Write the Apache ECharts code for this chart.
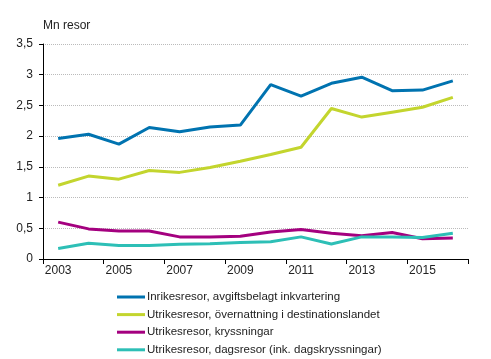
<!DOCTYPE html>
<html><head><meta charset="utf-8">
<script src="https://cdn.jsdelivr.net/npm/echarts@6/dist/echarts.min.js"></script>
<style>html,body{margin:0;padding:0;background:#fff}#c{width:491px;height:359px}</style>
</head><body><div id="c"></div>
<script>
const years = ['2003','2004','2005','2006','2007','2008','2009','2010','2011','2012','2013','2014','2015','2016'];
const seriesNames = [
  'Inrikesresor, avgiftsbelagt inkvartering',
  'Utrikesresor, övernattning i destinationslandet',
  'Utrikesresor, kryssningar',
  'Utrikesresor, dagsresor (ink. dagskryssningar)'
];
const inrikes = [1.96,2.03,1.87,2.14,2.07,2.15,2.18,2.84,2.65,2.86,2.96,2.74,2.75,2.90];
const overnattning = [1.20,1.35,1.30,1.44,1.41,1.49,1.59,1.70,1.82,2.45,2.31,2.39,2.47,2.63];
const kryssningar = [0.60,0.49,0.455,0.455,0.36,0.36,0.37,0.44,0.48,0.42,0.38,0.43,0.33,0.34];
const dagsresor = [0.17,0.255,0.22,0.22,0.24,0.25,0.27,0.28,0.36,0.245,0.36,0.36,0.35,0.42];
const colors = ['#0073b0','#c3d52e','#a4007f','#2dbfb6'];
const allData = [inrikes, overnattning, kryssningar, dagsresor];

const chart = echarts.init(document.getElementById('c'), null, {renderer:'canvas'});
chart.setOption({
  animation:false,
  textStyle:{fontFamily:'Liberation Sans, Arial, sans-serif'},
  grid:{left:43,right:23,top:44,bottom:100},
  legend:{
    orient:'vertical', left:117, top:290, padding:0,
    itemWidth:28, itemHeight:3, itemGap:3.6,
    icon:'rect',
    textStyle:{fontSize:11.5,color:'#222',lineHeight:14,padding:[0,0,0,-3]},
    data:seriesNames
  },
  xAxis:{
    type:'category', data:years, boundaryGap:true,
    axisLine:{lineStyle:{color:'#000',width:1}},
    axisTick:{show:true,length:5,lineStyle:{color:'#000'}},
    axisLabel:{interval:1,color:'#222',fontSize:12,margin:6}
  },
  yAxis:{
    type:'value', min:0, max:3.5, interval:0.5,
    name:'Mn resor', nameLocation:'end', nameGap:12,
    nameTextStyle:{align:'left',color:'#222',fontSize:12},
    axisLine:{show:true,lineStyle:{color:'#000',width:1}},
    axisTick:{show:true,length:4,lineStyle:{color:'#000'}},
    axisLabel:{color:'#222',fontSize:12,margin:10,formatter:v=>String(v).replace('.',',')},
    splitLine:{lineStyle:{color:'#bbb',type:'dotted'}}
  },
  series: allData.map((d,i)=>({
    name:seriesNames[i], type:'line', data:d, symbol:'none',
    lineStyle:{width:3,color:colors[i]}, itemStyle:{color:colors[i]}
  }))
});
</script></body></html>
